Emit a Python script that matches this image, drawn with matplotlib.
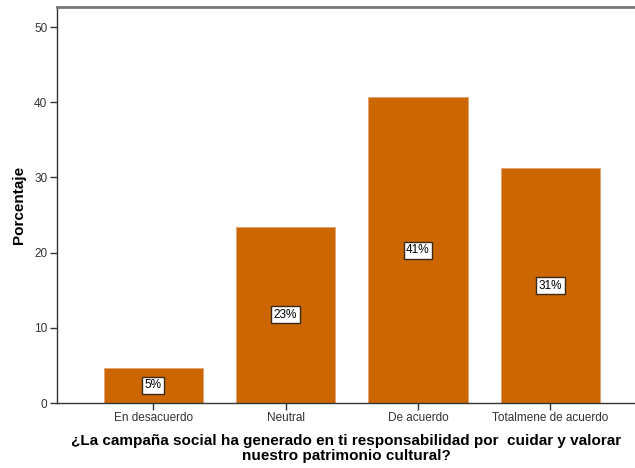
import matplotlib
matplotlib.use("Agg")
import matplotlib.pyplot as plt

plt.rcParams['font.family'] = ['Liberation Sans', 'DejaVu Sans']

# Response categories and percentage of respondents
categories = ["En desacuerdo", "Neutral", "De acuerdo", "Totalmene de acuerdo"]
percentages = [4.69, 23.44, 40.63, 31.25]
labels = ["5%", "23%", "41%", "31%"]

BAR_COLOR = "#CC6600"

fig = plt.figure(figsize=(6.35, 4.68), dpi=100)
ax = fig.add_axes([57 / 635, 1 - 403 / 468, 1 - 57 / 635, 396 / 468])

x = range(len(categories))
ax.bar(x, percentages, width=0.75, color=BAR_COLOR, edgecolor="#E8A070", linewidth=0.6)

# Value boxes centred inside each bar
for xi, val, lab in zip(x, percentages, labels):
    ax.text(xi, val / 2, lab, ha="center", va="center", fontsize=8.5,
            bbox=dict(boxstyle="square,pad=0.22", facecolor="white",
                      edgecolor="#3a2a1a", linewidth=1.0))

ax.set_xlim(-0.727, 3.64)
ax.set_ylim(0, 52.66)
ax.set_yticks([0, 10, 20, 30, 40, 50])
ax.set_xticks(list(x))
ax.set_xticklabels(categories)
ax.tick_params(axis="both", labelsize=8.5, length=5, width=1, color="#333333", pad=2)
ax.tick_params(axis="y", labelcolor="#333333")
ax.tick_params(axis="x", labelcolor="#333333", pad=1.5)

for side in ["left", "bottom"]:
    ax.spines[side].set_color("#333333")
    ax.spines[side].set_linewidth(1.0)
ax.spines["top"].set_color("#777777")
ax.spines["top"].set_linewidth(2.0)
ax.spines["right"].set_visible(False)

ax.set_ylabel("Porcentaje", fontsize=11, fontweight="bold", labelpad=6)
ax.set_xlabel("¿La campaña social ha generado en ti responsabilidad por  cuidar y valorar\nnuestro patrimonio cultural?",
              fontsize=11, fontweight="bold", labelpad=7, linespacing=1.1)

fig.savefig("out.png", dpi=100)
